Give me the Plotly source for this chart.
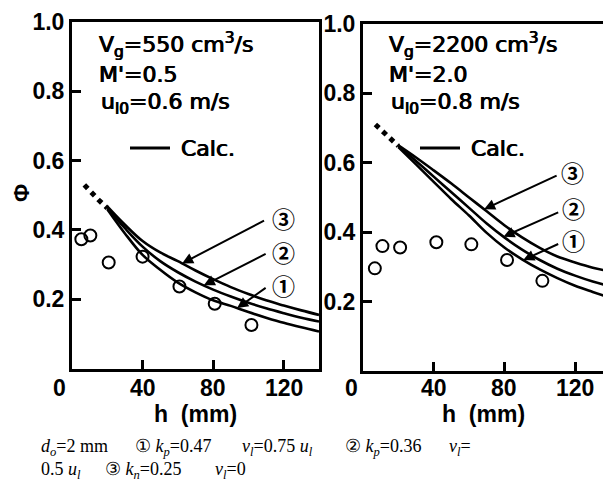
import numpy as np
import plotly.graph_objects as go

W, H = 603, 488

# ---------------- data ----------------
# left panel: Vg = 550 cm3/s
h_curve_L = [7, 10, 15, 20, 30, 40, 50, 60, 70, 80, 90, 100, 110, 120, 130, 140]
phi1_L = [0.53, 0.512, 0.485, 0.46, 0.39, 0.328, 0.285, 0.248, 0.22, 0.197, 0.181, 0.163, 0.147, 0.132, 0.119, 0.107]
phi2_L = [0.53, 0.513, 0.487, 0.463, 0.405, 0.352, 0.31, 0.278, 0.251, 0.228, 0.208, 0.19, 0.174, 0.16, 0.147, 0.136]
phi3_L = [0.53, 0.515, 0.49, 0.468, 0.415, 0.368, 0.335, 0.31, 0.283, 0.258, 0.235, 0.215, 0.197, 0.182, 0.168, 0.155]
h_pts_L = [5.3, 10.4, 20.8, 40, 60.9, 80.9, 101.7]
phi_pts_L = [0.373, 0.384, 0.306, 0.323, 0.237, 0.187, 0.126]

# right panel: Vg = 2200 cm3/s
h_curve_R = [7, 10, 15, 20, 30, 40, 50, 60, 70, 80, 90, 100, 110, 120, 130, 137]
phi1_R = [0.71, 0.695, 0.67, 0.645, 0.595, 0.545, 0.495, 0.448, 0.398, 0.356, 0.322, 0.293, 0.268, 0.246, 0.228, 0.216]
phi2_R = [0.71, 0.695, 0.67, 0.648, 0.605, 0.56, 0.515, 0.47, 0.425, 0.385, 0.35, 0.32, 0.295, 0.275, 0.258, 0.248]
phi3_R = [0.71, 0.695, 0.672, 0.65, 0.615, 0.578, 0.54, 0.5, 0.46, 0.42, 0.385, 0.355, 0.33, 0.313, 0.298, 0.29]
h_pts_R = [6.7, 11, 21, 41.5, 61.3, 81.5, 101.5]
phi_pts_R = [0.296, 0.36, 0.356, 0.371, 0.365, 0.32, 0.26]

x_ticks = [40, 80, 120]
x_tick_text = ["40", "80", "120"]
y_ticks = [0.2, 0.4, 0.6, 0.8, 1.0]
y_tick_text = ["0.2", "0.4", "0.6", "0.8", "1.0"]

# where the numbered arrows touch the curves (h, mm)
arrow_h_L = {"3": 62.4, "2": 74.7, "1": 93.6}
arrow_h_R = {"3": 68.5, "2": 79.5, "1": 90.7}

SANS = "Liberation Sans"
SERIF = "Liberation Serif"


def px(x):
    return x / W


def py(y):
    return 1 - y / H


fig = go.Figure()

DOT_END = 20


def add_curves(hs, curves, xa, ya):
    hs = np.array(hs)
    for c in curves:
        c = np.array(c)
        m = hs >= DOT_END
        fig.add_trace(go.Scatter(x=hs[m], y=c[m], mode="lines", xaxis=xa, yaxis=ya,
                                 line=dict(color="black", width=2.6, shape="spline"),
                                 showlegend=False, hoverinfo="skip"))
    c = np.array(curves[1])
    m = hs <= DOT_END
    fig.add_trace(go.Scatter(x=hs[m], y=c[m], mode="lines", xaxis=xa, yaxis=ya,
                             line=dict(color="black", width=5, dash="dot"),
                             showlegend=False, hoverinfo="skip"))


add_curves(h_curve_L, [phi1_L, phi2_L, phi3_L], "x", "y")
add_curves(h_curve_R, [phi1_R, phi2_R, phi3_R], "x2", "y2")

for hx, hy, xa, ya in [(h_pts_L, phi_pts_L, "x", "y"), (h_pts_R, phi_pts_R, "x2", "y2")]:
    fig.add_trace(go.Scatter(x=hx, y=hy, mode="markers", xaxis=xa, yaxis=ya,
                             marker=dict(symbol="circle-open", size=12, color="black",
                                         line=dict(width=2, color="black")),
                             showlegend=False, hoverinfo="skip"))

tickfont = dict(family=SANS, size=23, color="black", weight="bold")
common_x = dict(showline=True, linewidth=3, linecolor="black", ticks="inside", ticklen=9,
                tickwidth=2.5, tickcolor="black", showgrid=False, zeroline=False,
                tickvals=x_ticks, showticklabels=False, automargin=False)
common_y = dict(showline=True, linewidth=3, linecolor="black", ticks="inside", ticklen=9,
                tickwidth=2.5, tickcolor="black", showgrid=False, zeroline=False,
                tickvals=y_ticks, ticktext=y_tick_text, tickfont=tickfont, range=[0, 1],
                automargin=False)

fig.update_layout(
    template="none",
    width=W, height=H, autosize=False, margin=dict(l=0, r=0, t=0, b=0, pad=0),
    paper_bgcolor="white", plot_bgcolor="white", showlegend=False,
    xaxis=dict(domain=[px(72), px(319)], range=[0, 140], anchor="y", mirror=True, **common_x),
    yaxis=dict(domain=[py(368.6), py(22)], anchor="x", mirror=True, **common_y),
    xaxis2=dict(domain=[px(363), 1.0], range=[0, 135.8], anchor="y2", mirror=True, **common_x),
    yaxis2=dict(domain=[py(371.2), py(23.7)], anchor="x2", mirror=False, **common_y),
)

ann = []
txtfont = dict(family="DejaVu Sans", size=22, color="black",
               shadow="0.5px 0 0 black, -0.5px 0 0 black")


def text_px(x, y, t, font=txtfont, xanchor="left"):
    ann.append(dict(x=px(x), y=py(y), xref="paper", yref="paper", text=t, showarrow=False,
                    xanchor=xanchor, yanchor="middle", font=font))


# x tick labels ("0" sits left of the axis)
text_px(59, 388, "0", font=tickfont, xanchor="center")
text_px(351, 388, "0", font=tickfont, xanchor="center")
for xa in ["x", "x2"]:
    for v, t in zip(x_ticks, x_tick_text):
        ann.append(dict(x=v, y=py(388), xref=xa, yref="paper", text=t, showarrow=False,
                        xanchor="center", yanchor="middle", font=tickfont))

# panel texts
text_px(97, 45, "V<sub>g</sub>=550 cm<sup>3</sup>/s")
text_px(97, 74, "M'=0.5")
text_px(99, 103, "u<sub>l0</sub>=0.6 m/s")
text_px(179, 148, "Calc.")
text_px(387, 45, "V<sub>g</sub>=2200 cm<sup>3</sup>/s")
text_px(387, 75, "M'=2.0")
text_px(389, 103, "u<sub>l0</sub>=0.8 m/s")
text_px(469, 148, "Calc.")

# axis titles
titlefont = dict(family=SANS, size=23, color="black", weight="bold")
text_px(195, 414, "h  (mm)", font=titlefont, xanchor="center")
text_px(483, 414, "h  (mm)", font=titlefont, xanchor="center")
ann.append(dict(x=px(21.5), y=py(193.5), xref="paper", yref="paper", text="Φ", showarrow=False,
                xanchor="center", yanchor="middle", textangle=-90,
                font=dict(family=SANS, size=22, color="black", weight="bold")))

# numbered arrows
circ = {"1": "①", "2": "②", "3": "③"}
left_tail = {"3": (109.7, 0.429), "2": (110.6, 0.333), "1": (110.6, 0.236)}
left_lab = {"3": (120.1, 0.435), "2": (120.1, 0.337), "1": (120.1, 0.241)}
right_tail = {"3": (110.4, 0.565), "2": (111.3, 0.459), "1": (111.3, 0.368)}
right_lab = {"3": (118.8, 0.574), "2": (119.2, 0.469), "1": (119.2, 0.378)}
curves_L = {"1": phi1_L, "2": phi2_L, "3": phi3_L}
curves_R = {"1": phi1_R, "2": phi2_R, "3": phi3_R}

for xa, ya, hs, cv, ah, tails, labs in [
        ("x", "y", h_curve_L, curves_L, arrow_h_L, left_tail, left_lab),
        ("x2", "y2", h_curve_R, curves_R, arrow_h_R, right_tail, right_lab)]:
    for k in ["1", "2", "3"]:
        hx = ah[k]
        hy = float(np.interp(hx, hs, cv[k]))
        tx, ty = tails[k]
        ann.append(dict(x=hx, y=hy, xref=xa, yref=ya, ax=tx, ay=ty, axref=xa, ayref=ya,
                        text="", showarrow=True, arrowhead=2, arrowsize=1.1, arrowwidth=2,
                        arrowcolor="black", standoff=0, startstandoff=0))
        lx, ly = labs[k]
        ann.append(dict(x=lx, y=ly, xref=xa, yref=ya, text=circ[k], showarrow=False,
                        xanchor="center", yanchor="middle",
                        font=dict(family="Noto Sans CJK JP", size=23, color="black", weight="bold")))

# caption, segment by segment
capfont = dict(family=SERIF, size=18, color="black")
cap1 = [(39, "<i>d<sub>o</sub></i>=2 mm"),
        (133, "① <i>k<sub>p</sub></i>=0.47"),
        (240, "<i>v<sub>l</sub></i>=0.75 <i>u<sub>l</sub></i>"),
        (343, "② <i>k<sub>p</sub></i>=0.36"),
        (447, "<i>v<sub>l</sub></i>=")]
cap2 = [(39, "0.5 <i>u<sub>l</sub></i>"),
        (103, "③ <i>k<sub>n</sub></i>=0.25"),
        (213, "<i>v<sub>l</sub></i>=0")]
for x0, t in cap1:
    text_px(x0, 447, t, font=capfont)
for x0, t in cap2:
    text_px(x0, 470, t, font=capfont)

fig.update_layout(annotations=ann)

# "Calc." legend lines
shapes = [
    dict(type="line", xref="paper", yref="paper", x0=px(130), x1=px(170), y0=py(148), y1=py(148),
         line=dict(color="black", width=3)),
    dict(type="line", xref="paper", yref="paper", x0=px(420), x1=px(460), y0=py(148), y1=py(148),
         line=dict(color="black", width=3)),
]
fig.update_layout(shapes=shapes)

fig.write_html("out.html", config={"displayModeBar": False},
               post_script="document.body.style.margin='0px';")
